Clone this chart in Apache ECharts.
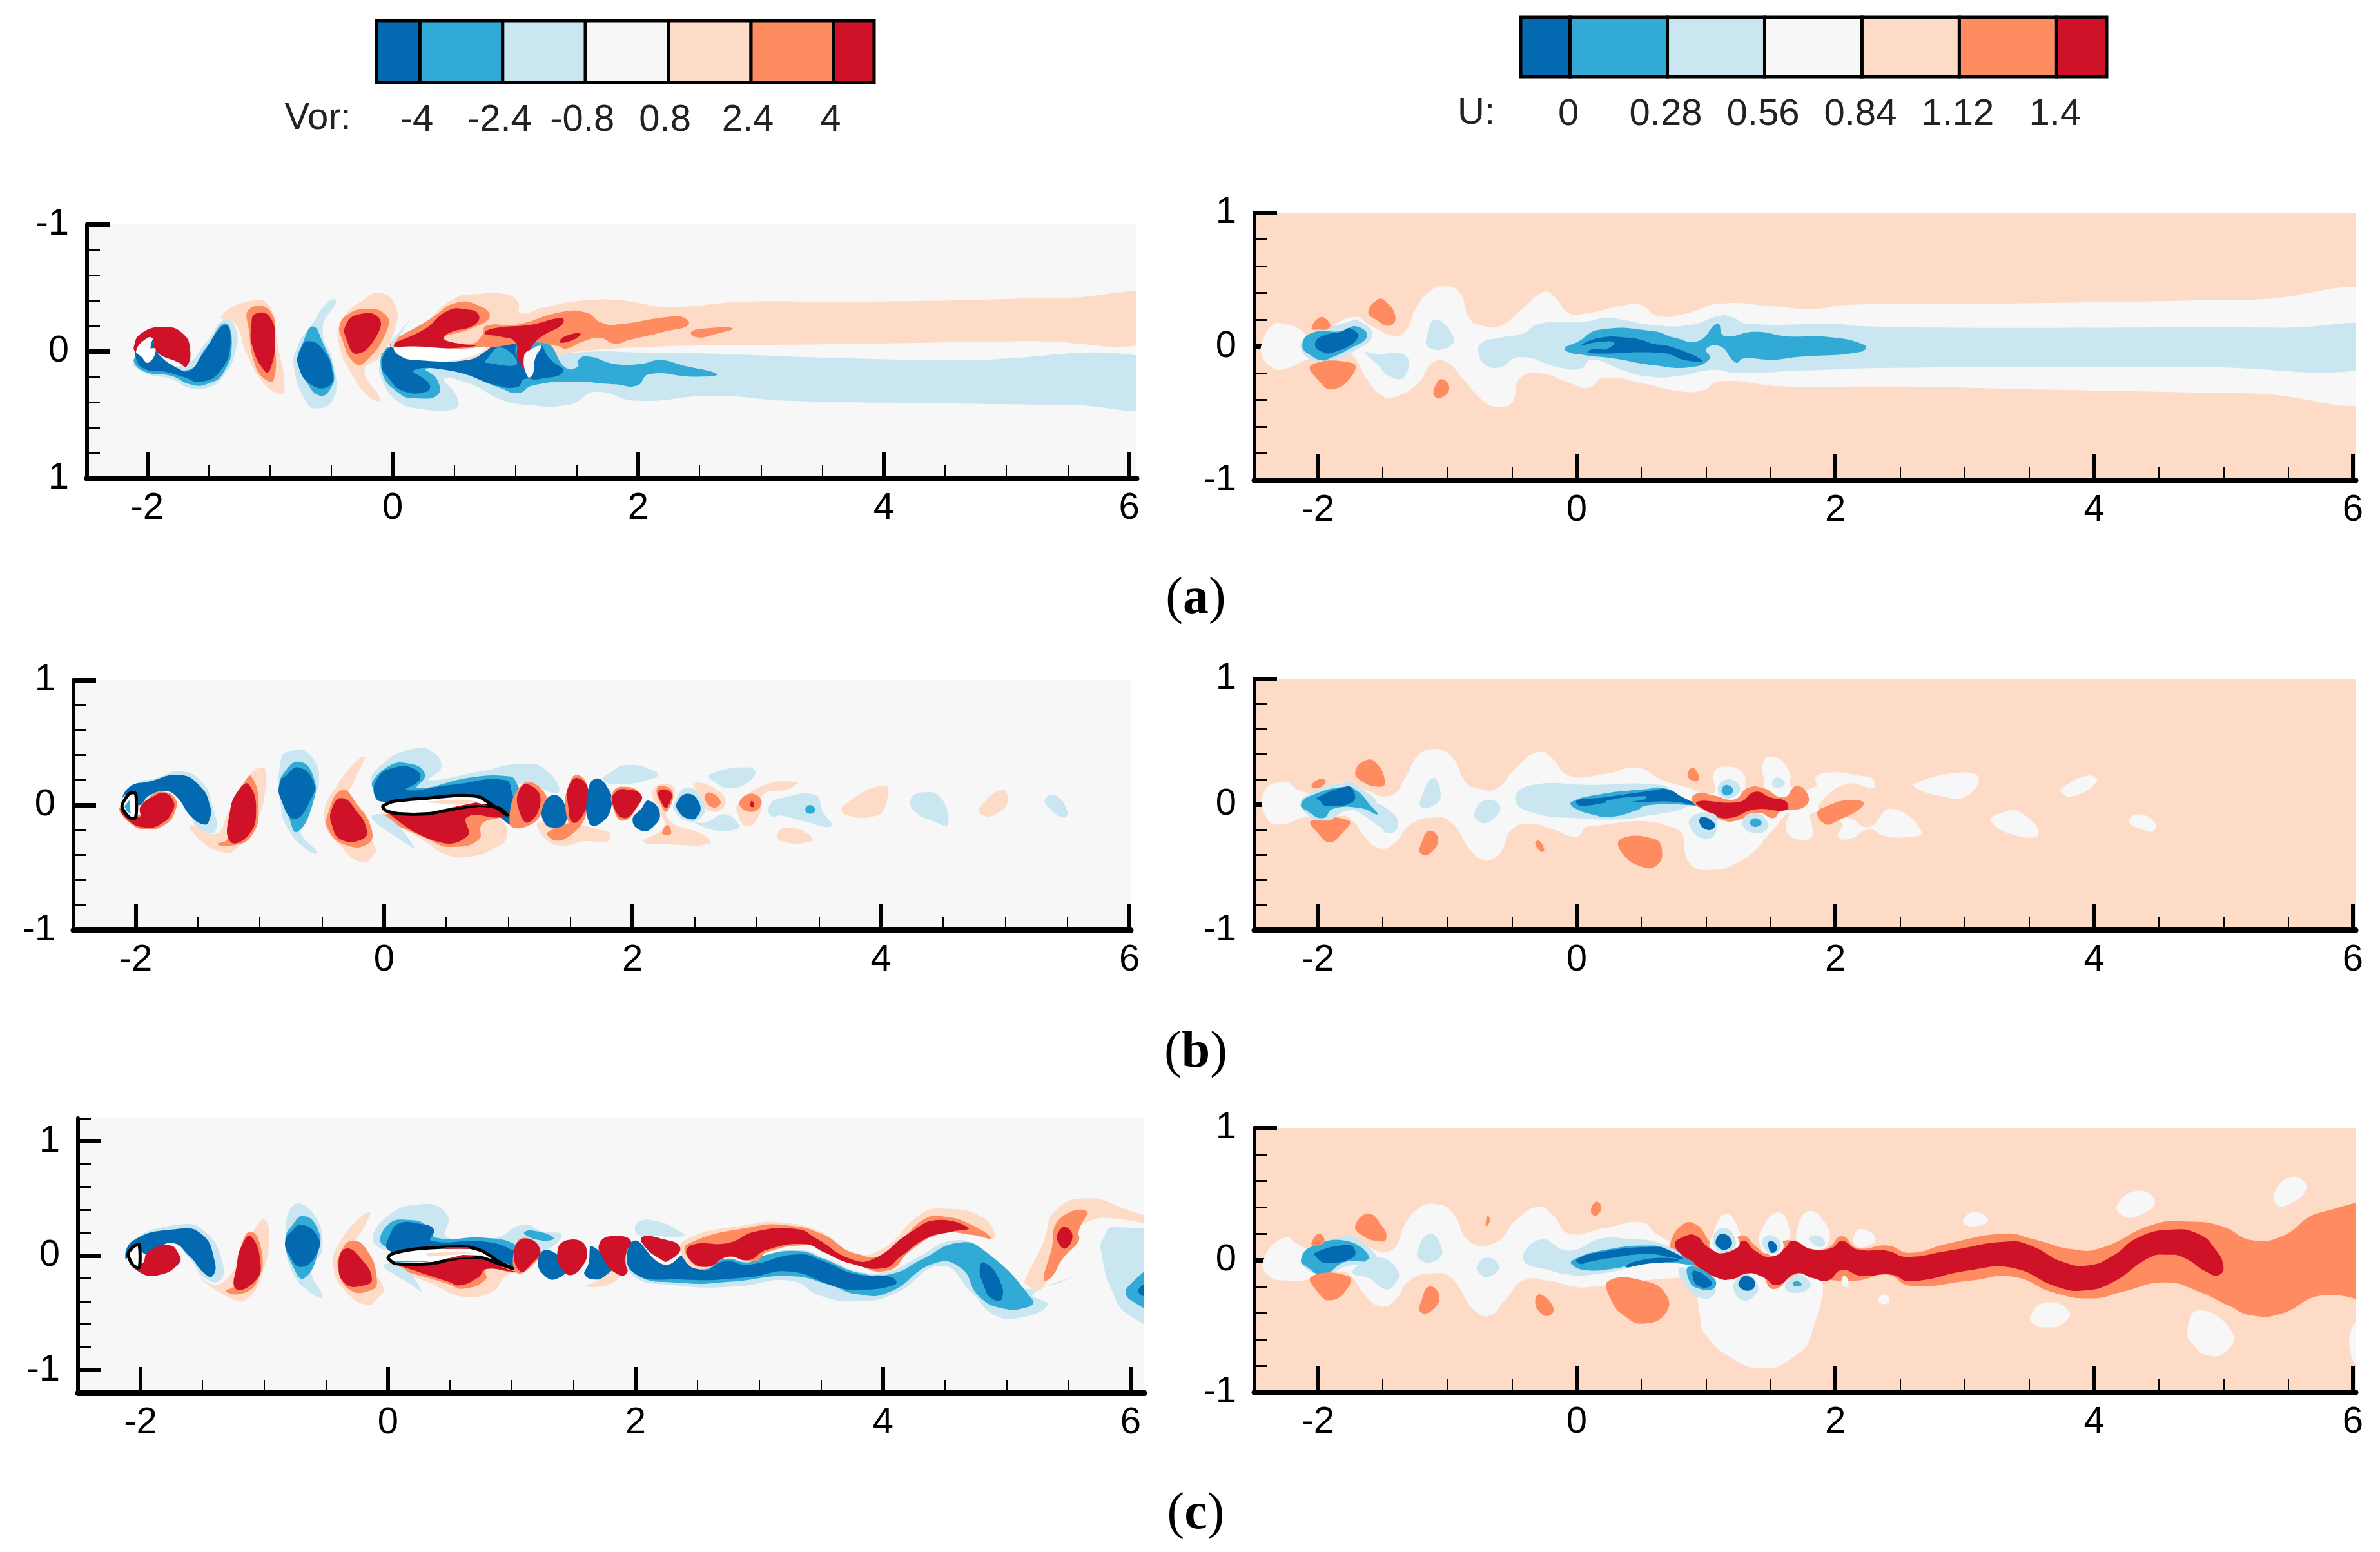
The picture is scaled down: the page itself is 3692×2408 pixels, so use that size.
<!DOCTYPE html>
<html>
<head>
<meta charset="utf-8">
<title>Vorticity and velocity contours</title>
<script src="https://cdn.jsdelivr.net/npm/echarts@6/dist/echarts.min.js"></script>
<style>
  html, body { margin: 0; padding: 0; background: #fff; }
  #main { width: 3692px; height: 2408px; }
</style>
</head>
<body>
<div id="main"></div>
<script>
// contour levels, dark blue to red, last one is the white body fill
var levelColors = ['#0369b0', '#31abd5', '#cae6f1', '#f7f7f7', '#fedbc7', '#ff8c61', '#cf1228', '#ffffff'];

var vorEdges = [-4.84, -4, -2.4, -0.8, 0.8, 2.4, 4, 4.78];
var vorTicks = [-4, -2.4, -0.8, 0.8, 2.4, 4];
var uEdges = [-0.142, 0, 0.28, 0.56, 0.84, 1.12, 1.4, 1.544];
var uTicks = [0, 0.28, 0.56, 0.84, 1.12, 1.4];

var xMajor = [-2, 0, 2, 4, 6];
var xMinor = [-1.5, -1, -0.5, 0.5, 1, 1.5, 2.5, 3, 3.5, 4.5, 5, 5.5];
var yMajor = [-1, 0, 1];
var yMinor = [-0.8, -0.6, -0.4, -0.2, 0.2, 0.4, 0.6, 0.8];
var yMinorWide = [-1.2, -0.8, -0.6, -0.4, -0.2, 0.2, 0.4, 0.6, 0.8, 1.2];

// every shape: [level, x values, y values]
var vorA = [
  [4, [.02,.27,.51,.70,.91,1.02,1.04,1.25,1.56,1.87,2.24,2.86,3.6,4.52,5.45,6.3,6.3,5.14,3.6,2.67,2.12,1.5,1.38,1.13,.51],
      [-.03,-.23,-.42,-.45,-.45,-.39,-.30,-.35,-.40,-.40,-.35,-.39,-.39,-.40,-.42,-.42,-.096,-.08,-.056,-.047,-.036,.004,.04,.11,.07]],
  [2, [-.10,-.07,.05,.20,.51,.52,.42,.64,.88,1.07,1.44,1.65,1.99,2.61,3.23,4.4,5.45,6.3,6.3,4.52,3.5,2.67,2.06,1.5,1.13,.02],
      [.09,.26,.40,.45,.45,.35,.22,.26,.38,.42,.42,.32,.39,.35,.39,.41,.42,.41,.07,.07,.05,.02,.01,.01,.08,.06]],
  [1, [-.04,-.09,.05,.20,.37,.36,.27,.51,.88,1.02,1.14,1.44,1.81,1.99,2.09,2.46,2.64,2.36,2.18,2.02,1.81,1.59,1.51,1.51,1.41,1.25,1.01,.76,.64,.14],
      [-.03,.15,.33,.37,.34,.22,.14,.16,.29,.33,.27,.24,.26,.27,.18,.20,.18,.11,.07,.10,.10,.04,.07,.12,.13,-.07,-.07,0,.07,.07]],
  [0, [-.02,-.09,-.04,.08,.27,.30,.17,.51,.85,1.02,1.07,1.19,1.39,1.28,1.20,1.16,1.13,1.01,.99,.88,.76,.60,.27,.08],
      [-.03,.11,.20,.31,.32,.26,.15,.16,.27,.28,.22,.22,.16,.06,-.05,.06,.16,.04,-.07,-.105,0,.07,.07,.02]],
  [1, [.76,.88,1.01,.76], [.07,-.03,.10,.09]],
  [5, [-.01,.33,.51,.70,.79,.64,.42,.64,.73,.76,1.01,1.38,1.59,1.69,1.81,2.24,2.36,2.41,2.24,1.93,1.81,1.69,1.56,1.41,1.35,1.13,.76],
      [-.03,-.27,-.38,-.36,-.27,-.18,-.105,-.06,-.13,-.20,-.21,-.31,-.30,-.23,-.21,-.27,-.27,-.21,-.16,-.09,-.06,-.105,-.08,-.02,-.04,-.07,-.03]],
  [5, [2.43,2.55,2.77,2.61,2.48], [-.15,-.18,-.18,-.13,-.11]],
  [6, [.01,.27,.45,.60,.70,.67,.45,.42,.67], [-.04,-.18,-.32,-.33,-.29,-.21,-.14,-.09,-.04]],
  [6, [.75,.82,1.13,1.38,1.38,1.22,1.13,1.07,1.10,1.02,1.0,.88], [-.14,-.18,-.21,-.26,-.21,-.12,-.03,.09,.16,.06,-.07,-.115]],
  [6, [1.36,1.41,1.53,1.47], [-.07,-.12,-.14,-.09]],
  [3, [1.07,1.13,1.21,1.16,1.14,1.10], [.04,-.015,-.04,.06,.185,.20]],
  [7, [.02,.57,.76,.57,.20,.05], [-.03,-.02,-.03,.06,.07,.03]],
  [4, [-1.40,-1.15,-1.0,-.94,-.88,-.94,-1.06,-1.19,-1.28], [-.27,-.40,-.35,-.07,.31,.33,.24,.02,-.21]],
  [5, [-1.17,-1.0,-.96,-.97,-1.04,-1.12,-1.17], [-.33,-.32,-.07,.23,.22,.11,-.16]],
  [6, [-1.12,-1.0,-.96,-1.0,-1.04,-1.14,-1.15], [-.295,-.27,-.07,.15,.16,-.03,-.21]],
  [2, [-.52,-.46,-.57,-.48,-.48,-.63,-.72,-.80,-.78,-.66], [-.395,-.395,-.18,.11,.37,.45,.37,.15,-.03,-.21]],
  [1, [-.65,-.57,-.48,-.51,-.59,-.69,-.77,-.73], [-.195,-.07,.17,.30,.35,.26,.08,-.07]],
  [0, [-.69,-.57,-.49,-.52,-.66,-.77,-.75], [-.08,-.015,.17,.275,.265,.11,-.015]],
  [4, [-.10,.02,.02,-.10,-.23,-.10,-.17,-.32,-.44,-.41,-.23], [-.46,-.36,-.18,.04,.15,.38,.375,.20,-.07,-.25,-.41]],
  [5, [-.23,-.07,-.04,-.23,-.32,-.41,-.43,-.35], [-.33,-.30,-.18,.09,.085,-.09,-.21,-.30]],
  [6, [-.28,-.12,-.12,-.29,-.38,-.38], [-.29,-.27,-.14,.02,-.105,-.21]],
  [2, [.14,.02,0,-.01,.08], [-.25,-.07,-.03,-.07,-.18]],
  [2, [-1.37,-1.28,-1.28,-1.37,-1.49,-1.65,-1.80,-2.02,-2.11,-1.71,-1.52], [-.25,-.18,0,.185,.28,.29,.22,.17,.09,.11,-.07]],
  [1, [-1.37,-1.31,-1.38,-1.52,-1.65,-1.80,-2.02,-2.11,-2.05,-1.68,-1.52], [-.22,-.07,.17,.26,.26,.195,.16,.075,.04,.15,-.03]],
  [0, [-1.37,-1.32,-1.40,-1.56,-1.71,-1.86,-2.02,-2.09,-2.08,-1.99,-1.96,-1.93,-1.74,-1.65,-1.56], [-.205,-.07,.15,.24,.20,.16,.14,.06,-.03,0,-.09,0,.14,.15,.04]],
  [6, [-2.11,-2.05,-1.86,-1.71,-1.65,-1.68,-1.74,-1.93,-1.96,-2.02,-2.09], [-.03,-.14,-.19,-.14,-.015,.12,.09,0,-.105,-.09,0]],
  [7, [-2.09,-2.02,-1.96,-1.99,-1.93,-1.99,-2.05], [0,-.09,-.09,-.03,-.015,.09,.04]]
];

var uA = [
  [3, [-2.43,-2.35,-2.26,-2.14,-2.05,-1.73,-1.58,-1.41,-1.32,-1.23,-1.11,-1.03,-.91,-.82,-.73,-.59,-.41,-.26,-.18,-.06,.06,.38,.50,.62,.82,1.11,1.52,1.82,2.08,3.23,4.28,5.19,6.3,6.3,5.19,4.04,3.49,2.46,1.61,1.11,.97,.76,.53,.21,.09,-.06,-.29,-.44,-.50,-.62,-.73,-.88,-1.0,-1.11,-1.23,-1.41,-1.50,-1.61,-1.73,-1.79,-1.91,-2.05,-2.26,-2.35,-2.43],
      [.03,.16,.17,.13,.065,.22,.15,.08,.12,.31,.43,.45,.41,.20,.155,.155,.29,.405,.38,.25,.245,.31,.31,.23,.24,.32,.30,.28,.31,.32,.335,.35,.35,-.35,-.35,-.33,-.32,-.30,-.30,-.26,-.33,-.33,-.28,-.235,-.31,-.27,-.20,-.24,-.42,-.45,-.40,-.24,-.12,-.12,-.28,-.38,-.37,-.26,-.07,-.07,-.09,-.09,-.17,-.16,-.07]],
  [2, [-.76,-.73,-.59,-.41,-.29,.06,.23,.35,.59,.88,1.11,1.20,1.32,2.05,2.11,2.90,5.45,6.3,6.3,4.78,2.46,1.76,1.23,1.06,.76,.56,.38,.12,.03,-.12,-.44,-.59,-.70],
      [-.04,.03,.065,.10,.17,.185,.215,.20,.16,.16,.23,.22,.17,.17,.155,.14,.14,.125,-.14,-.155,-.16,-.18,-.20,-.175,-.225,-.225,-.185,-.10,-.165,-.16,-.08,-.155,-.14]],
  [1, [-.09,0,.18,.59,.76,.94,1.09,1.14,1.38,1.64,1.91,2.23,2.20,1.70,1.52,1.29,1.23,1.11,1.0,1.03,.88,.59,.29,.06,-.07],
      [-.01,.03,.125,.115,.065,.04,.17,.08,.11,.075,.075,.01,-.04,-.08,-.10,-.09,-.12,0,-.02,-.09,-.155,-.14,-.09,-.065,-.04]],
  [0, [.03,.18,.41,.53,.59,.73,.97,.85,.67,.09,.12,.23,.29,.15], [.005,.065,.065,.04,.02,-.003,-.105,-.105,-.05,-.05,-.02,-.02,.03,.03]],
  [2, [-2.11,-1.76,-1.67,-1.58,-1.73,-1.88,-1.99,-2.11], [.05,.185,.185,.08,-.04,-.105,-.115,-.055]],
  [2, [-1.61,-1.55,-1.32,-1.33,-1.44,-1.55,-1.64], [-.045,-.055,-.07,-.225,-.225,-.125,-.045]],
  [2, [-1.09,-.95,-1.0,-1.14,-1.16], [.20,.065,-.01,-.01,.065]],
  [1, [-2.12,-2.05,-1.82,-1.70,-1.62,-1.76,-1.91,-1.96,-2.05], [.005,.10,.115,.15,.075,-.02,-.09,-.105,-.07]],
  [0, [-2.02,-1.96,-1.82,-1.75,-1.69,-1.88,-1.99], [.03,.08,.11,.135,.065,-.045,-.03]],
  [5, [-2.05,-1.99,-1.93,-1.91,-2.02], [.135,.215,.20,.14,.125]],
  [5, [-1.61,-1.54,-1.48,-1.40,-1.45,-1.55], [.255,.35,.34,.22,.155,.20]],
  [5, [-2.05,-1.73,-1.73,-1.88,-1.99], [-.14,-.125,-.21,-.32,-.26]],
  [5, [-1.10,-1.085,-1.04,-.985,-1.03], [-.37,-.28,-.245,-.305,-.375]]
];

var vorB = [
  [2, [-2.08,-2.02,-1.81,-1.65,-1.47,-1.38,-1.36,-1.49,-1.56,-1.68,-1.78,-1.90,-1.99], [.01,.155,.22,.27,.19,-.01,-.21,-.195,-.085,.08,.12,.025,.08]],
  [0, [-2.12,-2.05,-1.89,-1.65,-1.49,-1.40,-1.41,-1.45,-1.55,-1.68,-1.77,-1.89,-1.97,-2.0,-2.08], [.024,.144,.188,.24,.16,-.01,-.13,-.156,-.096,.076,.11,.076,-.002,.06,.08]],
  [5, [-2.13,-2.05,-1.92,-1.76,-1.68,-1.68,-1.77,-1.88,-1.97], [-.02,-.14,-.195,-.155,-.045,.05,.105,.07,-.08]],
  [6, [-2.12,-2.05,-1.92,-1.79,-1.70,-1.70,-1.77,-1.86,-1.96,-1.97], [-.027,-.13,-.18,-.148,-.045,.04,.096,.067,-.01,-.096]],
  [4, [-.98,-.95,-1.04,-1.20,-1.29,-1.47,-1.56,-1.35,-1.26,-1.14], [.30,.17,-.16,-.36,-.38,-.29,-.16,-.23,-.07,.17]],
  [5, [-1.07,-1.01,-1.07,-1.23,-1.34,-1.26,-1.23,-1.14], [.23,-.01,-.25,-.325,-.31,-.27,-.01,.155]],
  [6, [-1.09,-1.03,-1.10,-1.24,-1.24,-1.17], [.165,-.05,-.25,-.29,-.05,.12]],
  [2, [-.74,-.59,-.525,-.62,-.68,-.54,-.62,-.77,-.83,-.83], [.435,.395,.175,-.01,-.195,-.38,-.36,-.195,-.01,.36]],
  [1, [-.68,-.57,-.57,-.70,-.77,-.84,-.80], [.345,.23,.025,-.215,-.085,.135,.265]],
  [0, [-.69,-.57,-.59,-.72,-.83,-.84,-.78], [.30,.19,.045,-.11,.045,.175,.245]],
  [4, [-.16,-.25,-.28,-.07,-.07,-.17,-.34,-.48,-.37], [.39,.17,.10,-.34,-.38,-.455,-.34,-.105,.17]],
  [5, [-.34,-.22,-.10,-.13,-.31,-.45,-.45], [.12,.01,-.195,-.31,-.32,-.195,-.065]],
  [6, [-.34,-.22,-.14,-.17,-.34,-.42,-.42], [.055,-.05,-.195,-.27,-.28,-.16,-.03]],
  [2, [-.10,0,.24,.39,.46,.36,.76,1.12,1.31,1.40,1.12,.15], [.17,.34,.45,.425,.30,.20,.265,.33,.275,.10,.17,.135]],
  [1, [-.085,.02,.21,.33,.27,.70,1.0,1.06,1.12,.94,.27], [.135,.30,.33,.245,.135,.22,.23,.19,-.01,.10,.10]],
  [0, [-.07,-.055,.085,.24,.29,.18,.57,.97,1.03,1.06,1.0,.82,.73,.21,.02], [.06,.21,.30,.29,.21,.12,.165,.20,.10,-.16,-.15,.01,.07,.045,.025]],
  [4, [0,.33,.51,.70,.88,.99,.94,.76], [-.06,-.29,-.40,-.41,-.35,-.25,-.12,-.05]],
  [5, [.02,.39,.54,.76,.79,.94,.82], [-.075,-.29,-.335,-.28,-.15,-.085,-.01]],
  [6, [0,.12,.36,.63,.82,.97,.94,.67,.67,.42], [-.04,-.075,-.075,-.02,0,-.075,-.10,-.095,-.25,-.29]],
  [2, [-.10,.02,.24,.12], [-.10,-.09,-.335,-.27]],
  [5, [1.12,1.29,1.28,1.12,1.01], [.17,.10,-.05,-.18,-.14]],
  [6, [1.16,1.26,1.16,1.08,1.09], [.165,.045,-.14,-.02,.12]],
  [4, [1.25,1.80,1.80,1.61,1.43,1.30], [-.14,-.215,-.29,-.29,-.325,-.27]],
  [5, [1.58,1.49,1.37,1.32], [-.14,-.25,-.28,-.215]],
  [0, [1.37,1.46,1.46,1.37,1.29,1.28], [.08,-.01,-.14,-.18,-.14,-.01]],
  [5, [1.55,1.64,1.61,1.52,1.46,1.48], [.24,.135,-.12,-.17,-.03,.135]],
  [6, [1.56,1.65,1.61,1.52,1.48,1.48], [.215,.10,-.065,-.14,.01,.135]],
  [2, [1.80,1.95,2.19,2.19,1.86,1.76], [.245,.32,.265,.22,.165,.21]],
  [0, [1.70,1.79,1.83,1.73,1.65,1.64], [.21,.155,-.01,-.155,-.14,.10]],
  [5, [1.92,2.05,2.04,1.92,1.84,1.84], [.145,.10,-.01,-.125,-.01,.10]],
  [6, [1.95,2.07,2.04,1.93,1.84,1.86], [.125,.08,-.01,-.105,.01,.10]],
  [4, [2.25,2.34,2.28,2.59,2.62,2.28,2.09,2.25,2.22,2.16], [.17,.12,-.10,-.25,-.31,-.315,-.29,-.18,-.05,.10]],
  [0, [2.13,2.22,2.16,2.07,2.0,2.07], [.035,-.065,-.18,-.205,-.12,-.03]],
  [5, [2.20,2.32,2.28,2.24], [.14,.11,-.05,-.02]],
  [6, [2.21,2.31,2.28,2.25], [.11,.10,-.02,-.01]],
  [5, [2.28,2.31,2.24], [-.16,-.23,-.23]],
  [2, [2.59,2.74,2.86,2.83,2.68,2.50], [-.14,-.075,-.16,-.195,-.205,-.14]],
  [2, [2.62,2.95,2.98,2.80,2.65], [.245,.30,.23,.135,.19]],
  [2, [2.45,2.58,2.55,2.45,2.34,2.34], [.14,.01,-.10,-.13,-.05,.03]],
  [0, [2.45,2.54,2.52,2.45,2.37,2.36], [.09,.01,-.095,-.11,-.05,.025]],
  [4, [2.50,2.71,2.74,2.62,2.56], [.175,.10,-.01,-.05,.045]],
  [4, [2.86,3.08,3.32,3.26,3.05,3.02,2.92,2.84], [.025,.165,.18,.13,.08,-.085,-.17,-.05]],
  [5, [2.62,2.71,2.65,2.58], [.10,.025,-.02,.055]],
  [5, [2.95,3.04,2.96,2.86], [.09,.025,-.055,.01]],
  [6, [2.96,2.98,2.95], [.035,-.01,-.01]],
  [2, [3.11,3.2,3.47,3.53,3.6,3.38,3.2,3.11], [.01,.055,.08,-.05,-.17,-.13,-.085,-.085]],
  [1, [3.43,3.47,3.43,3.39], [0,-.04,-.07,-.04]],
  [4, [3.26,3.41,3.44,3.2,3.17], [-.18,-.23,-.29,-.29,-.22]],
  [4, [3.69,4.03,4.04,3.96,3.72], [-.01,.155,.01,-.085,-.08]],
  [2, [4.24,4.33,4.48,4.54,4.45,4.27], [.045,.10,.06,-.16,-.14,-.05]],
  [4, [4.79,4.97,5.02,4.91,4.82], [-.03,.12,.025,-.08,-.08]],
  [2, [5.32,5.4,5.5,5.47,5.36], [.045,.08,-.05,-.10,-.03]]
];
var airfoilB = [[-.01,.08,.37,.57,.76,.86,.99,.93,.78,.63,.49,.36,.12,.015], [-.01,.03,.057,.075,.067,.007,-.08,-.027,-.002,-.02,-.045,-.07,-.07,-.045]];
var cylinderB = [[-2.05,-2.0,-2.0,-2.05,-2.11], [.092,.092,-.10,-.10,-.01]];
var bodyMarksB = [
  [4, [.30,.60,.75,.60], [.025,.045,.03,0]],
  [6, [.52,.74,.86,.74], [-.025,.02,-.01,0]],
  [1, [-2.09,-2.05,-2.04,-2.07], [-.01,.04,-.07,-.05]]
];

var uB = [
  [3, [-2.42,-2.26,-2.14,-2.02,-1.79,-1.67,-1.44,-1.32,-1.23,-1.11,-.97,-.85,-.76,-.62,-.47,-.29,-.19,-.06,.21,.47,.65,.82,1.06,1.06,1.17,1.29,1.32,1.44,1.44,1.52,1.64,1.67,1.85,1.85,1.99,2.17,2.29,2.29,2.11,1.91,1.88,2.11,2.26,2.43,2.67,2.55,2.38,2.26,2.11,2.02,2.05,1.82,1.82,1.70,1.62,1.64,1.52,1.47,1.38,1.22,1.06,.88,.76,.09,0,-.18,-.35,-.50,-.59,-.67,-.79,-.97,-1.11,-1.29,-1.41,-1.52,-1.64,-1.73,-1.82,-1.99,-2.08,-2.26,-2.38],
      [.09,.18,.11,.09,.18,.13,.07,.22,.385,.44,.385,.165,.125,.125,.29,.42,.365,.23,.24,.29,.20,.145,.09,.255,.30,.24,.11,.13,.33,.38,.275,.13,.145,.22,.255,.23,.20,.13,.165,.045,-.055,-.11,-.18,-.035,-.22,-.26,-.25,-.20,-.275,-.255,-.145,-.07,-.255,-.275,-.20,-.07,-.20,-.255,-.365,-.475,-.52,-.475,-.19,-.175,-.255,-.20,-.155,-.20,-.385,-.44,-.40,-.145,-.105,-.165,-.31,-.35,-.255,-.13,-.09,-.145,-.10,-.155,-.13]],
  [3, [2.61,2.99,3.11,2.99,2.82,2.64], [.165,.255,.20,.055,.065,.12]],
  [3, [3.75,3.96,4.02,3.84,3.75], [.13,.23,.18,.065,.09]],
  [3, [3.2,3.26,3.43,3.57,3.37], [-.13,-.075,-.065,-.24,-.24]],
  [3, [4.27,4.34,4.47,4.46,4.37], [-.14,-.08,-.145,-.21,-.20]],
  [5, [-2.05,-1.99,-1.94,-1.99], [.145,.20,.185,.13]],
  [5, [-1.71,-1.63,-1.55,-1.48,-1.52,-1.67], [.265,.35,.33,.18,.14,.19]],
  [5, [-2.05,-1.76,-1.82,-1.91,-1.99], [-.13,-.13,-.24,-.30,-.24]],
  [5, [-1.14,-1.07,-1.14,-1.21,-1.20], [-.21,-.275,-.395,-.385,-.31]],
  [5, [-.29,-.25,-.275,-.32], [-.29,-.365,-.375,-.31]],
  [5, [.34,.60,.66,.62,.50,.35], [-.275,-.275,-.365,-.485,-.495,-.385]],
  [5, [.89,.94,.93,.86], [.29,.24,.185,.22]],
  [5, [1.92,2.11,2.22,1.99,1.92,1.86], [-.02,.035,0,-.145,-.155,-.07]],
  [2, [-.47,-.38,.12,.65,.76,.88,.50,.29,0,-.29], [.02,.145,.155,.155,.09,0,-.10,-.12,-.11,-.08]],
  [2, [-1.2,-1.11,-1.05,-1.09,-1.20], [.055,.21,.09,0,-.02]],
  [2, [-.79,-.70,-.59,-.67,-.76], [-.065,.035,-.02,-.135,-.135]],
  [2, [-1.61,-1.44,-1.38,-1.45,-1.52,-1.67,-1.76], [.02,-.055,-.165,-.23,-.18,-.07,-.02]],
  [2, [-2.11,-1.79,-1.67,-1.55,-1.79,-1.94,-2.11], [.055,.175,.13,0,-.055,-.13,-.055]],
  [1, [-2.13,-2.05,-1.79,-1.70,-1.60,-1.54,-1.67,-1.88,-1.96,-2.08], [0,.07,.14,.11,0,-.08,-.03,-.035,-.11,-.055]],
  [0, [-2.02,-1.79,-1.73,-1.73,-1.94,-1.99], [.045,.14,.12,.02,-.01,.035]],
  [1, [-.04,.18,.53,.67,.79,.91,.76,.53,.47,.26,.12,-.03], [.02,.08,.12,.13,.07,0,0,-.01,-.045,-.10,-.08,-.02]],
  [0, [0,.21,.59,.70,.82,.94,.76,.53,.29,.03], [.03,.055,.11,.12,.055,-.01,.02,.02,.02,-.01]],
  [1, [.23,.53,.53,.25], [.03,.065,.04,.01]],
  [5, [.89,.94,1.06,1.22,1.32,1.44,1.60,1.70,1.79,1.76,1.58,1.52,1.41,1.23,1.14,1.0], [.03,.09,.07,.04,.13,.13,.055,.145,.07,-.02,-.055,-.11,-.07,-.13,-.13,-.055]],
  [6, [.93,1.26,1.38,1.50,1.62,1.62,1.38,1.17,1.03], [.02,.02,.10,.055,.02,-.045,-.04,-.11,-.065]],
  [2, [.88,1.06,1.08,1.03,.91], [-.11,-.075,-.20,-.27,-.23]],
  [0, [.97,1.06,1.06,1.0,.95], [-.10,-.145,-.19,-.20,-.145]],
  [2, [1.38,1.47,1.47,1.38,1.29,1.29], [-.07,-.13,-.20,-.23,-.18,-.11]],
  [1, [1.38,1.43,1.38,1.34], [-.11,-.145,-.18,-.145]],
  [2, [1.17,1.26,1.23,1.14,1.09], [.20,.145,.07,.055,.13]],
  [1, [1.16,1.21,1.16,1.12], [.155,.11,.07,.11]],
  [2, [1.55,1.61,1.55,1.51], [.215,.165,.13,.165]]
];

var vorC = [
  [2, [-2.06,-1.69,-1.48,-1.34,-1.36,-1.49,-1.60,-1.75,-1.94], [.13,.27,.21,-.05,-.22,-.19,-.03,.11,.03]],
  [0, [-2.12,-2.06,-1.72,-1.51,-1.40,-1.42,-1.49,-1.60,-1.75,-1.94,-2.03], [-.03,.13,.23,.19,-.05,-.18,-.15,-.01,.11,.01,.05]],
  [6, [-2.10,-2.0,-1.85,-1.69,-1.69,-1.77,-1.94,-1.99], [-.03,-.15,-.17,-.07,.01,.09,.03,-.07]],
  [4, [-1.02,-.96,-1.02,-1.14,-1.26,-1.53,-1.36,-1.17], [.31,.21,-.17,-.38,-.38,-.18,-.25,.03]],
  [5, [-1.11,-1.02,-1.05,-1.17,-1.31,-1.23,-1.20], [.21,.03,-.21,-.33,-.31,-.25,.03]],
  [6, [-1.11,-1.03,-1.08,-1.23,-1.22,-1.18], [.17,-.07,-.23,-.29,-.07,.09]],
  [2, [-.77,-.61,-.53,-.62,-.53,-.62,-.77,-.82], [.435,.375,.07,-.13,-.36,-.33,-.15,.13]],
  [1, [-.68,-.57,-.56,-.68,-.77,-.83,-.77], [.345,.235,.05,-.20,-.09,.13,.27]],
  [0, [-.70,-.57,-.57,-.70,-.80,-.83,-.77], [.27,.17,.03,-.10,.01,.13,.22]],
  [4, [-.15,-.25,-.31,-.04,-.10,-.16,-.31,-.44,-.37], [.38,.15,.11,-.27,-.39,-.43,-.35,-.11,.15]],
  [5, [-.29,-.16,-.09,-.13,-.31,-.40,-.39], [.13,.03,-.21,-.30,-.30,-.11,.01]],
  [6, [-.34,-.20,-.13,-.19,-.34,-.40], [.06,-.05,-.21,-.26,-.25,-.09]],
  [2, [-.10,-.04,.27,.48,.48,.85,1.10,1.25,1.40,1.28,1.04,.24], [.09,.31,.45,.355,.16,.15,.27,.21,.18,.05,.01,.05]],
  [1, [-.04,0,.18,.33,.39,.79,1.04,1.13,1.04,.85,.30], [.09,.27,.31,.25,.155,.155,.09,-.03,-.07,.01,.05]],
  [0, [0,.02,.09,.24,.37,.35,.79,1.04,1.13,1.01,.88,.73,.18], [.05,.19,.28,.28,.23,.13,.12,.03,-.05,-.12,-.03,.05,.05]],
  [4, [0,.36,.61,.85,.94,1.04,.79], [-.07,-.25,-.36,-.31,-.19,-.13,-.03]],
  [5, [.055,.49,.61,.79,.79,.98,.79], [-.08,-.25,-.29,-.21,-.12,-.14,-.05]],
  [6, [.02,.09,.55,.79,.94,1.07,.99,.79,.73,.58,.49], [-.06,-.08,-.04,-.03,-.11,-.15,-.14,-.12,-.19,-.26,-.23]],
  [2, [-.04,.12,.27,.18], [-.09,-.11,-.31,-.25]],
  [1, [1.10,1.16,1.34,1.25], [.19,.22,.155,.13]],
  [5, [1.10,1.23,1.16,1.04,1.02], [.155,.05,-.09,-.15,.05]],
  [6, [1.11,1.23,1.16,1.07,1.02], [.15,.05,-.07,-.14,.05]],
  [0, [1.29,1.44,1.37,1.28,1.21], [.05,-.11,-.20,-.19,-.05]],
  [6, [1.48,1.60,1.56,1.44,1.37], [.14,.07,-.11,-.16,.05]],
  [0, [1.65,1.83,1.71,1.59,1.62], [.08,-.17,-.21,-.17,-.07]],
  [4, [1.90,1.83,1.60,1.71], [-.07,-.23,-.27,-.21]],
  [6, [1.83,1.97,1.93,1.85,1.74,1.71], [.17,.11,-.15,-.16,-.03,.11]],
  [2, [2.02,2.17,2.36,2.39,2.14,2.01], [.29,.30,.21,.17,.17,.19]],
  [2, [1.96,2.11,2.26,2.42,2.54,2.72,2.91,3.0,3.31,3.55,3.80,4.04,4.29,4.56,4.81,4.99,5.21,5.58,5.21,5.33,5.12,4.90,4.72,4.47,4.10,3.80,3.49,3.25,2.82,2.33,1.96],
      [.09,-.05,-.09,-.01,-.11,-.03,-.05,-.01,.05,-.03,-.14,-.14,-.01,.13,.05,-.21,-.29,-.17,-.34,-.43,-.54,-.52,-.33,-.09,-.33,-.40,-.35,-.22,-.27,-.26,-.16]],
  [1, [1.98,2.15,2.26,2.42,2.54,2.72,2.91,3.0,3.31,3.52,3.80,4.07,4.32,4.60,4.81,5.21,5.17,4.96,4.77,4.63,4.41,4.05,3.80,3.55,3.25,2.76,2.38,1.99],
      [.09,-.05,-.08,0,-.12,-.03,-.06,-.01,.04,-.03,-.15,-.16,-.03,.11,.05,-.39,-.45,-.46,-.35,-.11,-.07,-.32,-.34,-.25,-.18,-.23,-.24,-.15]],
  [0, [1.99,2.23,2.42,2.54,2.72,2.91,3.31,3.52,3.77,4.07,4.10,3.80,3.61,3.25,2.91,2.39,1.97], [.13,-.08,.01,-.13,-.05,-.08,.01,-.05,-.16,-.19,-.25,-.30,-.27,-.14,-.19,-.21,-.14]],
  [0, [4.81,4.93,4.96,4.87,4.81,4.78], [-.06,-.19,-.38,-.37,-.25,-.13]],
  [4, [2.39,2.91,3.16,3.49,3.74,3.98,4.29,4.47,4.81,4.90,4.78,4.47,4.23,4.04,3.74,3.52,3.37,3.0,2.75,2.54,2.39], [.13,.27,.29,.21,.03,.05,.35,.41,.33,.15,.19,.19,.07,-.14,-.05,.07,.11,.01,-.01,-.12,-.03]],
  [5, [2.42,2.94,3.25,3.52,3.77,4.04,4.32,4.50,4.75,4.87,4.72,4.47,4.23,4.04,3.77,3.52,3.37,3.06,2.97,2.75,2.54,2.42], [.10,.25,.26,.18,.02,.02,.31,.34,.25,.15,.18,.19,.05,-.13,-.07,.05,.09,.03,-.05,-.01,-.10,-.01]],
  [6, [2.45,2.75,2.97,3.31,3.46,3.74,3.92,4.23,4.44,4.69,4.56,4.35,4.14,4.01,3.74,3.52,3.37,3.06,2.91,2.75,2.57,2.42], [.09,.11,.21,.23,.15,-.03,-.03,.21,.31,.24,.21,.15,-.01,-.11,-.07,.03,.10,.05,-.04,-.01,-.10,-.01]],
  [4, [5.15,5.30,5.39,5.66,5.97,6.3,6.3,5.89,5.64,5.46,5.28,5.15], [-.21,.13,.39,.50,.40,.27,.24,.32,.29,.13,-.29,-.25]],
  [5, [5.30,5.36,5.42,5.64,5.58,5.58,5.45,5.36], [-.21,.05,.31,.39,.21,.13,-.03,-.19]],
  [6, [5.41,5.47,5.53,5.47,5.41], [.19,.25,.17,.06,.13]],
  [2, [5.77,5.87,6.3,6.3,6.0,5.85,5.76], [.13,.25,.09,-.61,-.53,-.31,.05]],
  [1, [5.98,6.3,6.3,6.0], [-.27,-.07,-.48,-.39]],
  [0, [6.06,6.3,6.3], [-.31,-.19,-.38]],
  [6, [2.05,2.20,2.36,2.26,2.20,2.08], [.16,.15,.07,-.05,-.03,.07]]
];
var airfoilC = [[0,.035,.21,.46,.65,.77,.89,1.01,.89,.76,.60,.48,.36,.06], [-.02,.016,.055,.073,.073,.035,-.05,-.115,-.07,-.02,-.02,-.04,-.07,-.07]];
var cylinderC = [[-2.01,-2.05,-2.10,-2.06,-2.01], [.092,.083,.016,-.086,-.105]];
var bodyMarksC = [
  [4, [.30,.57,.70,.33], [.02,.035,.02,-.01]],
  [6, [.48,.60,.76,.60], [-.03,.005,0,-.02]],
  [1, [.05,.30,.33,.06], [-.05,-.045,-.055,-.06]],
  [6, [.46,.65,.65,.46], [.073,.073,.058,.058]]
];

var uC = [
  [3, [-2.42,-2.26,-2.14,-2.02,-1.79,-1.67,-1.44,-1.32,-1.23,-1.11,-.97,-.82,-.62,-.47,-.29,-.18,-.06,.21,.50,.62,.76,.88,.95,1.0,1.23,1.44,1.64,1.82,1.82,.76,.09,0,-.23,-.41,-.56,-.67,-.79,-.97,-1.11,-1.29,-1.41,-1.52,-1.64,-1.73,-1.82,-1.99,-2.26,-2.38],
      [0,.17,.11,.07,.18,.125,.07,.28,.385,.425,.37,.135,.135,.30,.405,.335,.20,.24,.285,.195,.125,.10,-.40,-.57,-.76,-.82,-.76,-.55,-.10,-.135,-.205,-.205,-.155,-.155,-.31,-.42,-.38,-.135,-.10,-.155,-.31,-.35,-.26,-.135,-.085,-.135,-.155,-.12]],
  [3, [1.06,1.15,1.23,1.26,1.06], [.21,.35,.28,.07,.07]],
  [3, [1.42,1.55,1.64,1.61,1.47,1.42], [.21,.36,.25,.07,.04,.11]],
  [3, [1.70,1.79,1.92,1.95,1.85,1.73], [.21,.37,.28,.14,.07,.11]],
  [3, [2.14,2.20,2.31,2.23,2.16], [.17,.235,.16,.10,.11]],
  [3, [2.99,3.08,3.18,3.08,3.0], [.31,.365,.30,.255,.275]],
  [3, [4.18,4.34,4.47,4.34,4.22], [.42,.525,.44,.335,.335]],
  [3, [5.4,5.54,5.64,5.48,5.41], [.525,.63,.54,.41,.42]],
  [3, [3.51,3.64,3.81,3.75,3.64,3.53], [-.415,-.32,-.395,-.485,-.51,-.485]],
  [3, [4.72,4.81,5.07,5.01,4.87,4.78], [-.55,-.38,-.55,-.70,-.72,-.655]],
  [3, [5.97,6.02,6.02], [-.62,-.48,-.78]],
  [3, [2.33,2.38,2.42,2.38], [-.30,-.26,-.30,-.335]],
  [5, [.72,.82,.93,1.03,1.11,1.20,1.29,1.38,1.47,1.55,1.64,1.79,1.94,2.05,2.17,2.40,2.58,2.87,3.31,3.52,3.84,4.05,4.46,4.75,4.99,5.22,5.45,5.75,6.3,6.3,5.75,5.45,5.22,5.04,4.81,4.55,4.22,3.99,3.70,3.37,3.05,2.58,2.40,2.17,1.91,1.70,1.52,1.41,1.23,1.11,1.0,.76],
      [.11,.27,.265,.14,.07,.14,.185,.11,.05,.11,.15,.09,.09,.18,.09,.11,.055,.125,.20,.16,.08,.09,.27,.29,.255,.15,.18,.36,.375,-.27,-.27,-.405,-.42,-.345,-.24,-.17,-.24,-.29,-.25,-.125,-.155,-.195,-.11,-.155,-.145,-.11,-.22,-.10,-.135,-.10,-.11,.07]],
  [6, [.76,.85,.93,1.01,1.09,1.20,1.29,1.38,1.50,1.61,1.67,1.82,1.97,2.05,2.17,2.40,2.55,2.87,3.34,3.52,3.76,3.96,4.14,4.34,4.60,4.81,4.93,5.0,4.96,4.87,4.69,4.57,4.43,4.14,3.93,3.72,3.37,3.05,2.58,2.43,2.20,2.05,1.94,1.82,1.70,1.55,1.44,1.32,1.20,1.09,.91],
      [.11,.185,.18,.10,.07,.07,.145,.07,.025,.09,.145,.08,.09,.145,.08,.07,.025,.07,.14,.105,-.015,-.04,.03,.17,.23,.195,.09,-.05,-.115,-.09,.02,.04,.02,-.17,-.23,-.205,-.06,-.075,-.16,-.11,-.12,-.075,-.155,-.135,-.10,-.19,-.13,-.10,-.145,-.135,-.03]],
  [3, [2.05,2.08,2.10,2.06], [-.135,-.12,-.195,-.195]],
  [3, [1.03,1.13,1.26,1.16,1.06], [.14,.24,.13,.06,.07]],
  [3, [1.43,1.51,1.60,1.52,1.45], [.16,.21,.11,.03,.09]],
  [2, [1.06,1.15,1.23,1.19,1.09], [.185,.24,.14,.07,.07]],
  [0, [1.08,1.13,1.20,1.16,1.09], [.16,.20,.14,.08,.10]],
  [2, [1.44,1.51,1.58,1.52,1.45], [.16,.185,.11,.045,.09]],
  [0, [1.48,1.51,1.55,1.51], [.125,.145,.09,.055]],
  [2, [1.80,1.87,1.92,1.87], [.16,.185,.125,.10]],
  [2, [.79,.88,1.06,1.06,.97,.85], [-.065,-.08,-.19,-.265,-.29,-.205]],
  [1, [.87,1.06,1.06,.94,.87], [-.05,-.135,-.215,-.215,-.155]],
  [0, [.91,1.04,1.03,.95,.90], [-.08,-.16,-.20,-.20,-.14]],
  [2, [1.32,1.40,1.38,1.29,1.22,1.23], [-.11,-.19,-.265,-.305,-.24,-.155]],
  [0, [1.31,1.38,1.34,1.26,1.26], [-.12,-.17,-.23,-.205,-.155]],
  [2, [1.70,1.81,1.70,1.61], [-.11,-.19,-.25,-.205]],
  [1, [1.70,1.74,1.70,1.67], [-.16,-.185,-.20,-.18]],
  [2, [-.41,-.28,-.06,.18,.41,.65,.82,.67,.47,.29,0,-.06,-.18], [0,.155,.07,.16,.16,.125,.02,-.015,-.04,-.085,-.12,-.11,-.085]],
  [1, [-.03,.18,.59,.73,.91,.65,.44,.29,.06,-.04], [0,.07,.11,.065,-.03,-.015,-.03,-.065,-.075,-.03]],
  [0, [0,.21,.59,.70,.82,.73,.56,.29,.09,.03], [.005,.065,.10,.08,.01,.02,.045,.02,-.015,-.03]],
  [0, [.44,.67,.79,.53,.38], [-.015,.017,-.005,-.03,-.055]],
  [2, [-2.11,-1.79,-1.67,-1.55,-1.79,-1.94,-2.11], [.04,.185,.145,0,-.05,-.11,-.05]],
  [1, [-2.13,-2.05,-1.76,-1.60,-1.79,-1.96,-2.08], [0,.10,.14,0,-.015,-.11,-.055]],
  [0, [-2.02,-1.79,-1.72,-1.73,-1.94,-2.01], [.055,.115,.09,.02,-.02,.02]],
  [2, [-1.67,-1.52,-1.38,-1.41,-1.48,-1.61,-1.73], [-.03,.02,-.085,-.19,-.22,-.135,-.10]],
  [2, [-1.23,-1.13,-1.04,-1.09,-1.20], [.07,.20,.07,-.005,-.005]],
  [2, [-.77,-.69,-.60,-.67,-.74], [-.05,.02,-.05,-.125,-.11]],
  [5, [-2.05,-1.99,-1.95,-2.02], [.125,.20,.14,.105]],
  [5, [-1.71,-1.61,-1.51,-1.47,-1.52,-1.67], [.265,.35,.265,.17,.14,.195]],
  [5, [-2.05,-1.76,-1.79,-1.91,-1.99], [-.125,-.125,-.24,-.305,-.255]],
  [5, [-1.14,-1.06,-1.13,-1.21,-1.20], [-.20,-.275,-.39,-.39,-.31]],
  [5, [-.28,-.18,-.21,-.28,-.32], [-.26,-.36,-.42,-.40,-.31]],
  [5, [.25,.53,.69,.69,.53,.38,.26], [-.155,-.16,-.26,-.40,-.48,-.43,-.29]],
  [5, [.15,.19,.15,.11], [.44,.40,.335,.37]],
  [5, [-.69,-.67,-.70], [.335,.30,.255]]
];

var panels = [
  { shapes: vorA, base: 3, left: 135, right: 1763, top: 348, bottom: 742, xMin: -2.49, xMax: 6.06, yRange: 1, inverse: true, bodies: [], marks: [] },
  { shapes: uA, base: 4, left: 1946, right: 3654, top: 330, bottom: 745, xMin: -2.49, xMax: 6.02, yRange: 1, inverse: false, bodies: [], marks: [] },
  { shapes: vorB, base: 3, left: 114, right: 1754, top: 1055, bottom: 1443, xMin: -2.5, xMax: 6.01, yRange: 1, inverse: false, bodies: [airfoilB, cylinderB], marks: bodyMarksB },
  { shapes: uB, base: 4, left: 1946, right: 3654, top: 1053, bottom: 1443, xMin: -2.49, xMax: 6.02, yRange: 1, inverse: false, bodies: [], marks: [] },
  { shapes: vorC, base: 3, left: 121, right: 1775, top: 1735, bottom: 2161, xMin: -2.505, xMax: 6.11, yRange: 1.2, inverse: false, bodies: [airfoilC, cylinderC], marks: bodyMarksC },
  { shapes: uC, base: 4, left: 1946, right: 3654, top: 1750, bottom: 2160, xMin: -2.49, xMax: 6.02, yRange: 1, inverse: false, bodies: [], marks: [] }
];

var axisFont = 'Liberation Sans';

// one polygon per shape, vertices go through the axes of that grid
function polygonSeries(shapes, xIndex, yIndex, smooth, stroke) {
  return {
    type: 'custom',
    xAxisIndex: xIndex,
    yAxisIndex: yIndex,
    clip: true,
    silent: true,
    animation: false,
    data: shapes.map(function (s, i) { return [s[1][0], s[2][0], i]; }),
    encode: { x: 0, y: 1 },
    renderItem: function (params, api) {
      var s = shapes[params.dataIndex];
      var pts = s[1].map(function (x, k) { return api.coord([x, s[2][k]]); });
      return {
        type: 'polygon',
        shape: { points: pts, smooth: smooth, smoothConstraint: false },
        style: {
          fill: levelColors[s[0]],
          stroke: stroke ? stroke.color : null,
          lineWidth: stroke ? stroke.width : 0
        }
      };
    }
  };
}

var grid = [], xAxis = [], yAxis = [], series = [];

panels.forEach(function (p, i) {
  grid.push({
    left: p.left, top: p.top, width: p.right - p.left, height: p.bottom - p.top,
    show: true, borderWidth: 0, backgroundColor: levelColors[p.base]
  });
  var xMain = xAxis.length, yMain = yAxis.length;
  xAxis.push({
    type: 'value', gridIndex: i, min: p.xMin, max: p.xMax, position: 'bottom', splitLine: { show: false },
    axisLine: { onZero: false, lineStyle: { color: '#000', width: 9 } },
    axisTick: { inside: true, length: 40, lineStyle: { color: '#000', width: 6 }, customValues: xMajor },
    axisLabel: { customValues: xMajor, margin: 18, color: '#000', fontFamily: axisFont, fontSize: 58 }
  });
  xAxis.push({
    type: 'value', gridIndex: i, min: p.xMin, max: p.xMax, position: 'bottom', splitLine: { show: false },
    axisLine: { show: false, onZero: false },
    axisTick: { inside: true, length: 20, lineStyle: { color: '#000', width: 2 }, customValues: xMinor },
    axisLabel: { show: false }
  });
  yAxis.push({
    type: 'value', gridIndex: i, min: -p.yRange, max: p.yRange, inverse: p.inverse, position: 'left', splitLine: { show: false },
    axisLine: { onZero: false, lineStyle: { color: '#000', width: 6 } },
    axisTick: { inside: true, length: 35, lineStyle: { color: '#000', width: 7 }, customValues: yMajor },
    axisLabel: { customValues: yMajor, margin: 28, color: '#000', fontFamily: axisFont, fontSize: 58 }
  });
  yAxis.push({
    type: 'value', gridIndex: i, min: -p.yRange, max: p.yRange, inverse: p.inverse, position: 'left', splitLine: { show: false },
    axisLine: { show: false, onZero: false },
    axisTick: { inside: true, length: 20, lineStyle: { color: '#000', width: 3 }, customValues: p.yRange > 1 ? yMinorWide : yMinor },
    axisLabel: { show: false }
  });
  series.push(polygonSeries(p.shapes, xMain, yMain, 0.5));
  if (p.bodies.length) {
    var bodyShapes = p.bodies.map(function (b) { return [7, b[0], b[1]]; });
    series.push(polygonSeries(bodyShapes, xMain, yMain, 0.25, { color: '#000', width: 5 }));
    series.push(polygonSeries(p.marks, xMain, yMain, 0));
  }
});

// colour bars
function addBar(edges, ticks, left, right, top, bottom, labelPad) {
  var g = grid.length, xi = xAxis.length, yi = yAxis.length;
  grid.push({ left: left, top: top, width: right - left, height: bottom - top });
  xAxis.push({
    type: 'value', gridIndex: g, min: edges[0], max: edges[edges.length - 1], splitLine: { show: false },
    axisLine: { show: false }, axisTick: { show: false },
    axisLabel: { customValues: ticks, margin: 30, padding: [0, labelPad, 0, 0], color: '#222', fontFamily: axisFont, fontSize: 58 }
  });
  yAxis.push({ type: 'value', gridIndex: g, min: 0, max: 1, show: false });
  var cells = [];
  for (var i = 0; i < edges.length - 1; i++) {
    cells.push([i, [edges[i], edges[i + 1], edges[i + 1], edges[i]], [0, 0, 1, 1]]);
  }
  var s = polygonSeries(cells, xi, yi, 0, { color: '#000', width: 5 });
  s.clip = false;
  series.push(s);
}
addBar(vorEdges, vorTicks, 584, 1356, 32, 128, 10);
addBar(uEdges, uTicks, 2359, 3268, 27, 119, 5);

function caption(letter, top) {
  return {
    text: '{n|(}{b|' + letter + '}{n|)}', left: 1850, top: top, textAlign: 'center',
    textStyle: {
      fontWeight: 'normal',
      rich: {
        n: { fontFamily: 'Liberation Serif', fontSize: 80, fontWeight: 'normal', color: '#000' },
        b: { fontFamily: 'Liberation Serif', fontSize: 80, fontWeight: 'bold', color: '#000' }
      }
    }
  };
}
function barTitle(text, left, top) {
  return { text: text, left: left, top: top, textAlign: 'center', textStyle: { fontFamily: axisFont, fontSize: 58, fontWeight: 'normal', color: '#222' } };
}

var chart = echarts.init(document.getElementById('main'), null, { renderer: 'canvas' });
chart.setOption({
  animation: false,
  backgroundColor: '#fff',
  title: [caption('a', 885), caption('b', 1589), caption('c', 2305), barTitle('Vor:', 488, 150), barTitle('U:', 2285, 142)],
  grid: grid,
  xAxis: xAxis,
  yAxis: yAxis,
  series: series
});
</script>
</body>
</html>
